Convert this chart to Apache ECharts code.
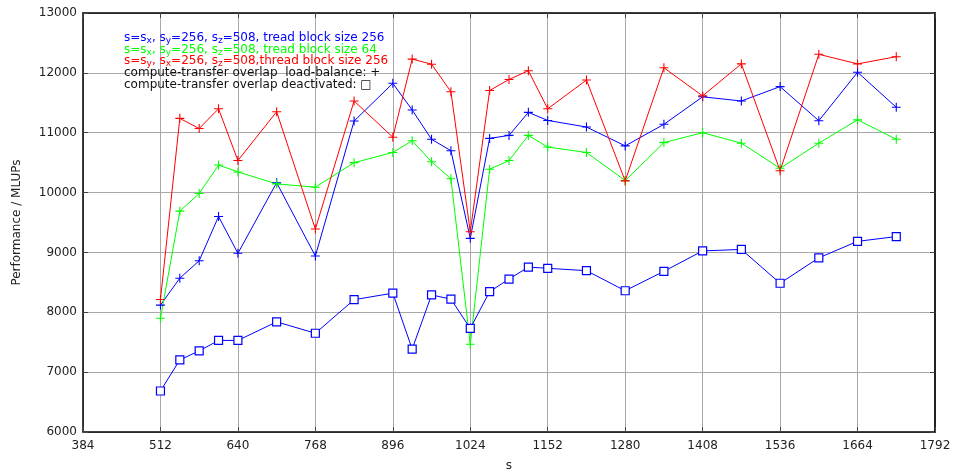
<!DOCTYPE html>
<html>
<head>
<meta charset="utf-8">
<script src="https://cdn.jsdelivr.net/npm/echarts@6/dist/echarts.min.js"></script>
<style>
html,body{margin:0;padding:0;background:#fff;}
#chart{width:959px;height:475px;}
</style>
</head>
<body>
<div id="chart"></div>
<script>
// Problem size s (x axis)
var sValues = [512,544,576,608,640,704,768,832,896,928,960,992,1024,1056,1088,1120,1152,1216,1280,1344,1408,1472,1536,1600,1664,1728];
// s=sx, sy=256, sz=508, thread block 256, overlap + load-balance
var blueOverlap = [8120,8570,8860,9600,8985,10165,8940,11195,11825,11380,10890,10700,9235,10905,10955,11340,11205,11095,10780,11140,11600,11530,11770,11200,12010,11425];
// s=sx, sy=256, sz=508, thread block 64, overlap + load-balance
var greenOverlap = [7900,9690,9985,10460,10345,10145,10090,10500,10670,10865,10515,10230,7465,10390,10535,10955,10760,10670,10200,10835,11000,10825,10405,10825,11215,10890];
// s=sy, sx=256, sz=508, thread block 256, overlap + load-balance
var redOverlap = [8215,11240,11070,11400,10535,11350,9390,11530,10925,12230,12145,11685,9345,11705,11890,12035,11400,11880,10195,12085,11615,12150,10365,12310,12150,12270];
// s=sx, sy=256, sz=508, thread block 256, overlap deactivated
var blueNoOverlap = [6685,7205,7355,7530,7530,7840,7650,8210,8320,7385,8290,8220,7730,8345,8555,8755,8735,8695,8360,8685,9025,9050,8485,8910,9185,9265];

var xTicks = {min:384, max:1792, interval:128};
var yTicks = {min:6000, max:13000, interval:1000};

function pairs(xs, ys){ return xs.map(function(x,i){ return [x, ys[i]]; }); }
function plain(v){ return String(v); }

var FONT = 'DejaVu Sans';
var plusPath = 'path://M0,8.8H20V11.2H0Z M8.8,0H11.2V20H8.8Z';
var BLUE = '#0000ff', GREEN = '#00ff00', RED = '#ff0000';

function lineSeries(name, data, color, symbol, size){
  var isPlus = symbol === plusPath;
  return {
    name: name, type: 'line', data: pairs(sValues, data),
    symbol: symbol, symbolSize: size, showAllSymbol: true,
    lineStyle: {color: color, width: 1},
    itemStyle: isPlus ? {color: color} : {color: '#ffffff', borderColor: color, borderWidth: 1.2},
    animation: false, z: 3
  };
}

var chart = echarts.init(document.getElementById('chart'), null, {renderer:'canvas'});

function legendRich(c){
  return {
    t: {fontSize: 12, fontFamily: FONT, fill: c, lineHeight: 15},
    s: {fontSize: 9, fontFamily: FONT, fill: c, verticalAlign: 'bottom', lineHeight: 9}
  };
}

var option = {
  animation: false,
  backgroundColor: '#fff',
  grid: {left: 83, top: 13, right: 24, bottom: 43, containLabel: false, outerBoundsMode: 'none'},
  xAxis: [{
    type: 'value', min: xTicks.min, max: xTicks.max, interval: xTicks.interval,
    name: 's', nameLocation: 'middle', nameGap: 28,
    nameTextStyle: {fontFamily: FONT, fontSize: 12, color: '#222'},
    axisLine: {show: true, onZero: false, lineStyle: {color: '#000', width: 1.5}},
    axisTick: {show: true, inside: true, length: 5, lineStyle: {color: '#444'}},
    axisLabel: {fontFamily: FONT, fontSize: 12, color: '#222', margin: 8, formatter: plain},
    splitLine: {show: true, lineStyle: {color: '#a8a8a8', width: 1}}
  }, {
    type: 'value', position: 'top', min: xTicks.min, max: xTicks.max, interval: xTicks.interval,
    axisLine: {show: true, onZero: false, lineStyle: {color: '#000', width: 1.5}},
    axisTick: {show: true, inside: true, length: 5, lineStyle: {color: '#444'}},
    axisLabel: {show: false}, splitLine: {show: false}
  }],
  yAxis: [{
    type: 'value', min: yTicks.min, max: yTicks.max, interval: yTicks.interval,
    name: 'Performance / MLUPs', nameLocation: 'middle', nameGap: 60,
    nameTextStyle: {fontFamily: FONT, fontSize: 12, color: '#222'},
    axisLine: {show: true, onZero: false, lineStyle: {color: '#000', width: 1.5}},
    axisTick: {show: true, inside: true, length: 5, lineStyle: {color: '#444'}},
    axisLabel: {fontFamily: FONT, fontSize: 12, color: '#222', margin: 6, formatter: plain},
    splitLine: {show: true, lineStyle: {color: '#a8a8a8', width: 1}}
  }, {
    type: 'value', position: 'right', min: yTicks.min, max: yTicks.max, interval: yTicks.interval,
    axisLine: {show: true, onZero: false, lineStyle: {color: '#222', width: 2}},
    axisTick: {show: true, inside: true, length: 5, lineStyle: {color: '#444'}},
    axisLabel: {show: false}, splitLine: {show: false}
  }],
  series: [
    lineSeries('blue overlap', blueOverlap, BLUE, plusPath, 9),
    lineSeries('green overlap', greenOverlap, GREEN, plusPath, 9),
    lineSeries('red overlap', redOverlap, RED, plusPath, 9),
    lineSeries('blue no overlap', blueNoOverlap, BLUE, 'rect', 8)
  ],
  graphic: [
    {type: 'text', x: 124, y: 38, z: 10, style: {verticalAlign: 'middle',
      text: '{t|s=s}{s|x}{t|, s}{s|y}{t|=256, s}{s|z}{t|=508, tread block size 256}', rich: legendRich(BLUE)}},
    {type: 'text', x: 124, y: 49.5, z: 10, style: {verticalAlign: 'middle',
      text: '{t|s=s}{s|x}{t|, s}{s|y}{t|=256, s}{s|z}{t|=508, tread block size 64}', rich: legendRich(GREEN)}},
    {type: 'text', x: 124, y: 61, z: 10, style: {verticalAlign: 'middle',
      text: '{t|s=s}{s|y}{t|, s}{s|x}{t|=256, s}{s|z}{t|=508,thread block size 256}', rich: legendRich(RED)}},
    {type: 'text', x: 124, y: 73, z: 10, style: {verticalAlign: 'middle',
      text: 'compute-transfer overlap  load-balance: +', fill: '#111', fontSize: 12, fontFamily: FONT}},
    {type: 'text', x: 124, y: 85, z: 10, style: {verticalAlign: 'middle',
      text: 'compute-transfer overlap deactivated: \u25A1', fill: '#111', fontSize: 12, fontFamily: FONT}}
  ]
};
chart.setOption(option);
</script>
</body>
</html>
